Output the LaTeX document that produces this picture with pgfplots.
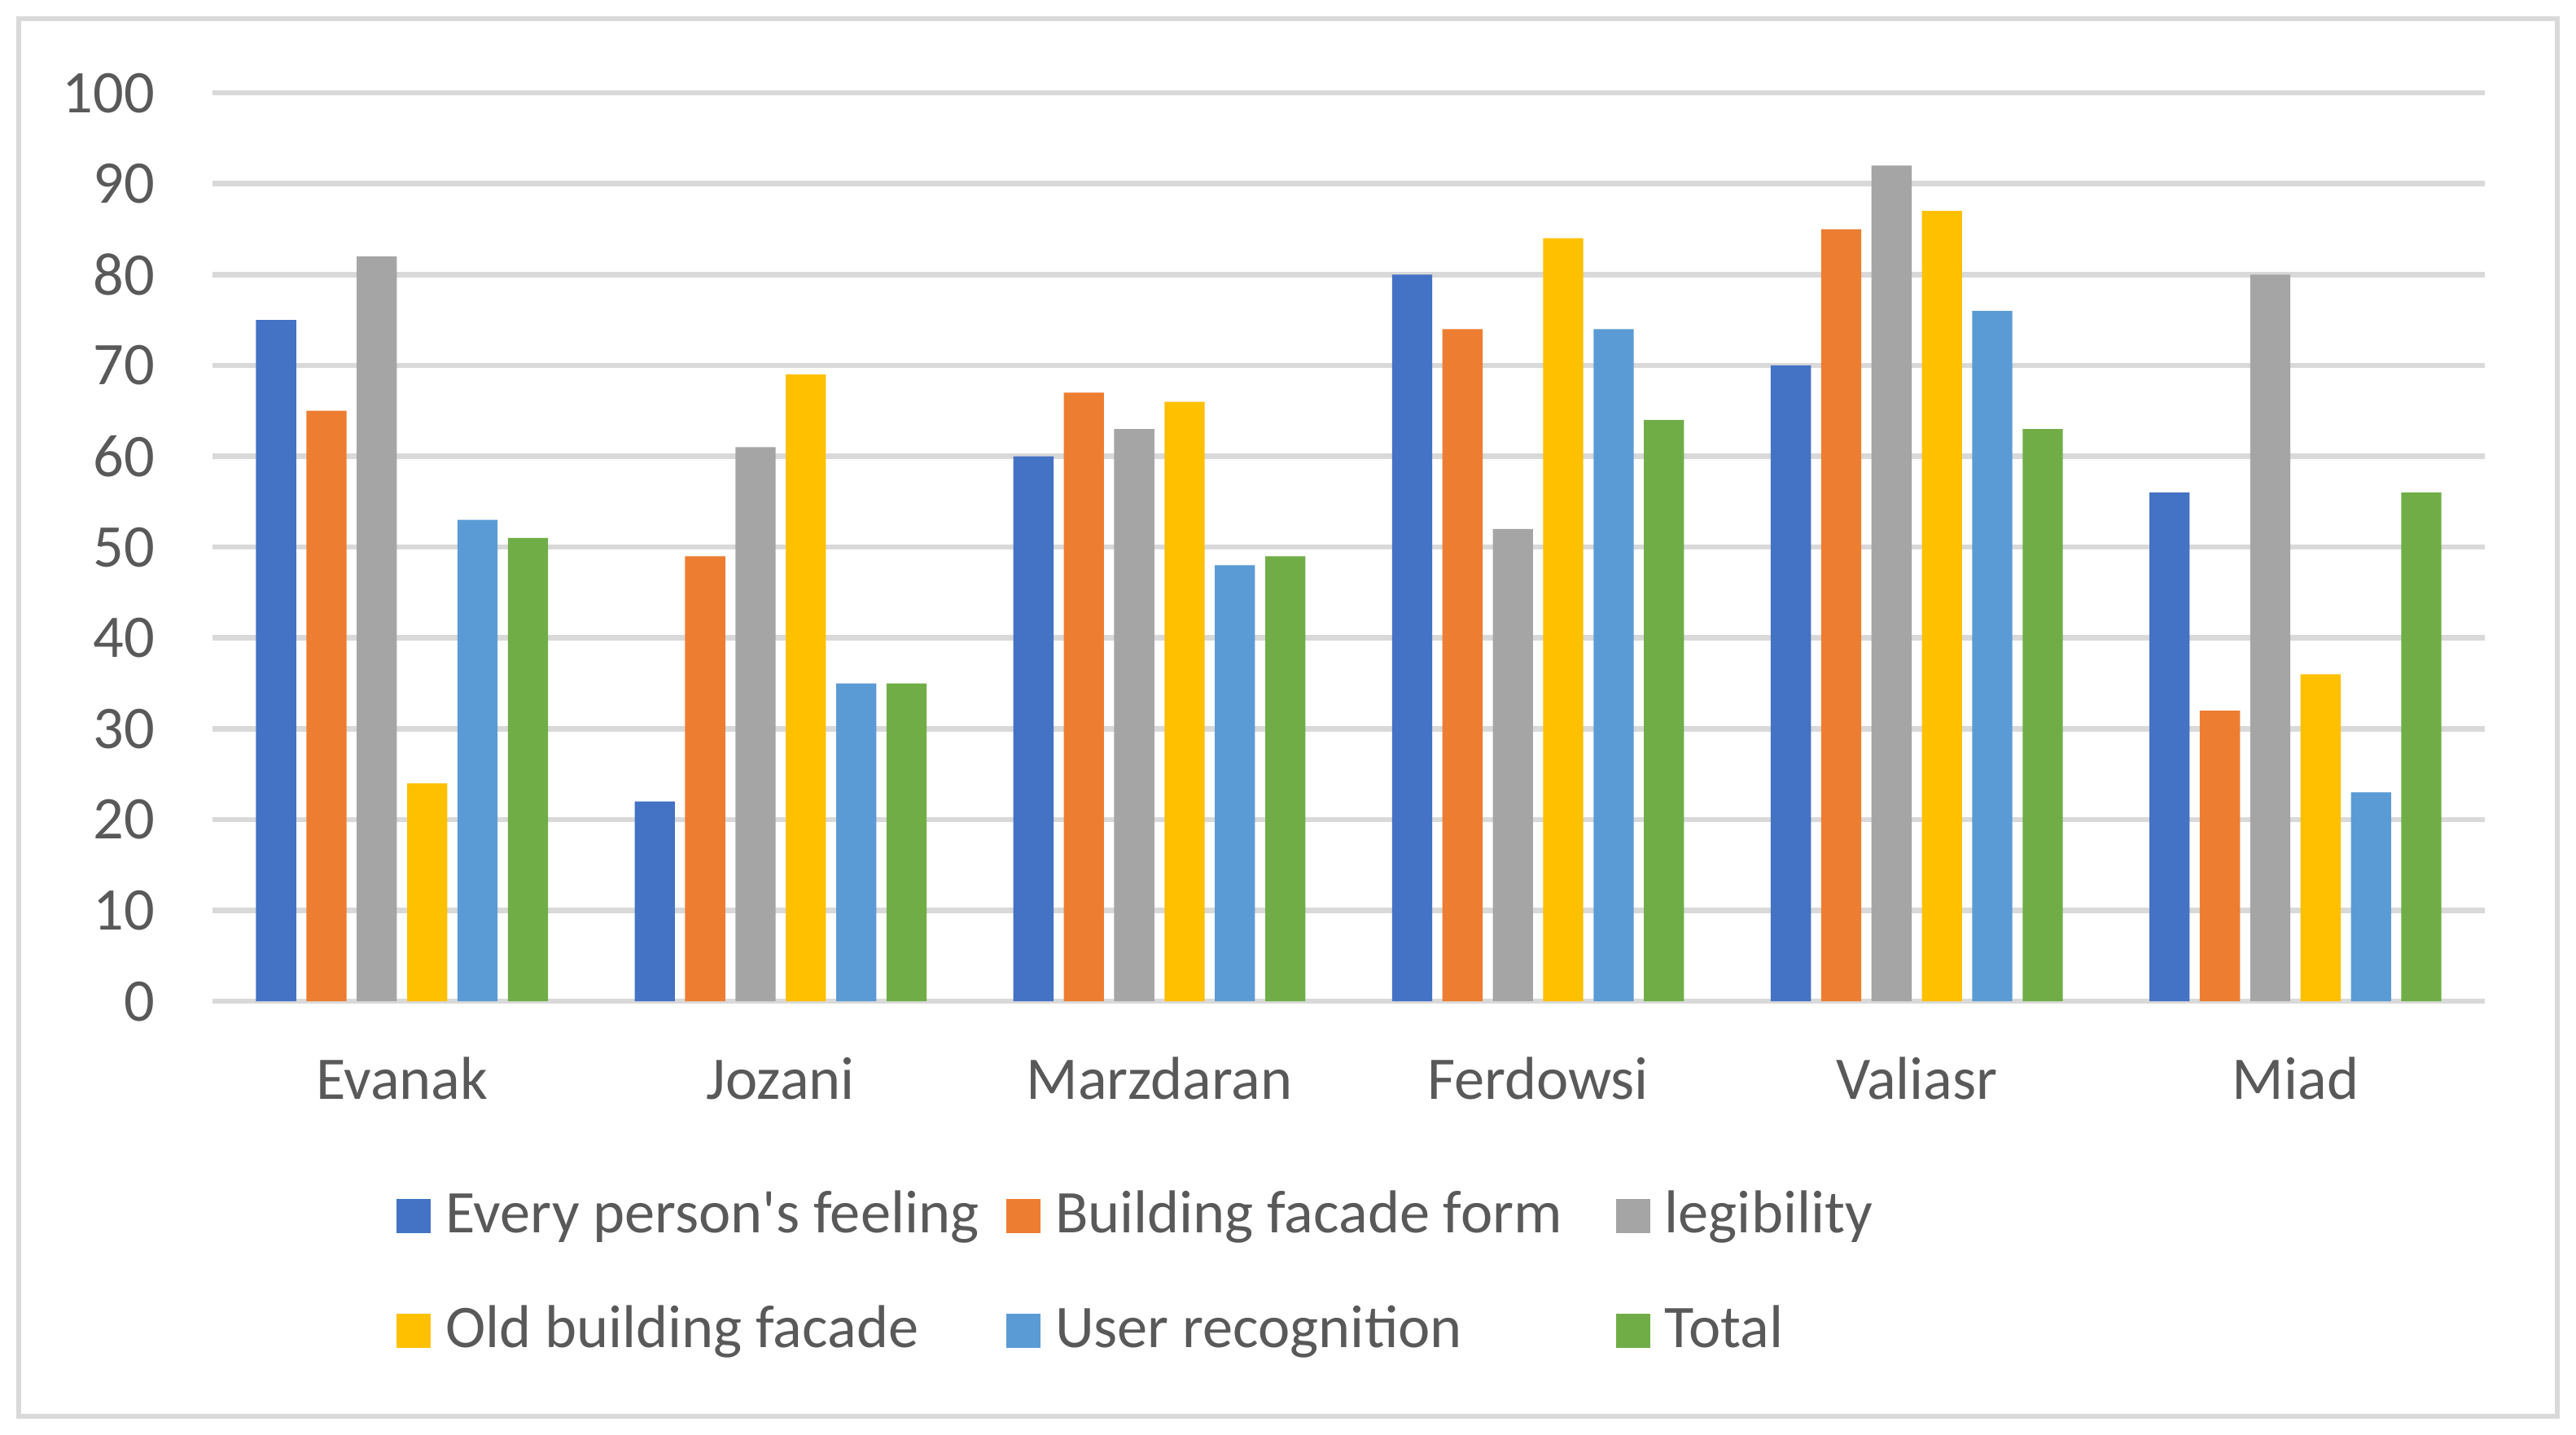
\documentclass[border=0pt]{standalone}
\usepackage{pgfplots}
\usepackage{pgfplotstable}
\pgfplotsset{compat=1.18}
\usepackage{fontspec}
\setmainfont{Carlito}

\definecolor{cA}{HTML}{4472C4}
\definecolor{cB}{HTML}{ED7D31}
\definecolor{cC}{HTML}{A5A5A5}
\definecolor{cD}{HTML}{FFC000}
\definecolor{cE}{HTML}{5B9BD5}
\definecolor{cF}{HTML}{70AD47}
\definecolor{gridc}{HTML}{D9D9D9}
\definecolor{txt}{HTML}{595959}

\newcommand\cf{\fontsize{9.3bp}{11bp}\selectfont}
\newcommand\lbox[1]{\makebox[88.35bp][l]{\hspace{2.25bp}#1}}

% x: 0 Evanak, 1 Jozani, 2 Marzdaran, 3 Ferdowsi, 4 Valiasr, 5 Miad
\pgfplotstableread{
x feel form legib old user total
0 75 65 82 24 53 51
1 22 49 61 69 35 35
2 60 67 63 66 48 49
3 80 74 52 84 74 64
4 70 85 92 87 76 63
5 56 32 80 36 23 56
}\scores

\begin{document}
\begin{tikzpicture}
\path (0,0) rectangle (395.5bp,220.375bp);
\draw[gridc, line width=0.7bp] (2.9bp,2.9bp) rectangle (392.6bp,217.475bp);
\begin{axis}[
    at={(32.65bp,66.6bp)}, anchor=south west,
    scale only axis,
    width=348.85bp, height=139.5bp,
    ybar, bar width=0.106,
    xmin=-0.5, xmax=5.5,
    ymin=0, ymax=100,
    xtick={0,...,5},
    xticklabels={Evanak,Jozani,Marzdaran,Ferdowsi,Valiasr,Miad},
    ytick={0,10,...,100},
    ymajorgrids,
    grid style={draw=gridc, line width=0.83bp},
    axis line style={draw=none},
    tick style={draw=none},
    major tick length=0pt,
    clip=false,
    /pgf/number format/assume math mode=true,
    tick label style={font=\cf, text=txt},
    yticklabel style={anchor=east, inner sep=0pt, xshift=-8.7bp},
    xticklabel style={anchor=base, inner sep=0pt, yshift=-15bp},
    legend columns=3,
    legend style={
        at={(0.081,-0.205)}, anchor=north west,
        draw=none, fill=none, inner sep=0pt, outer sep=0pt,
        font=\cf, text=txt,
        column sep=0pt, row sep=8.4bp,
        nodes={inner sep=0pt, anchor=base west, text height=7bp, text depth=2.2bp},
    },
    legend image code/.code={\fill[#1] (0bp,0bp) rectangle (5.25bp,5.25bp);},
]
\addplot[fill=cA, draw=none, bar shift=-0.3325] table[x=x, y=feel] {\scores};
\addlegendentry{\lbox{Every person\textquotesingle s feeling}}
\addplot[fill=cB, draw=none, bar shift=-0.1995] table[x=x, y=form] {\scores};
\addlegendentry{\lbox{Building facade form}}
\addplot[fill=cC, draw=none, bar shift=-0.0665] table[x=x, y=legib] {\scores};
\addlegendentry{\lbox{legibility}}
\addplot[fill=cD, draw=none, bar shift=0.0665] table[x=x, y=old] {\scores};
\addlegendentry{\lbox{Old building facade}}
\addplot[fill=cE, draw=none, bar shift=0.1995] table[x=x, y=user] {\scores};
\addlegendentry{\lbox{User recognition}}
\addplot[fill=cF, draw=none, bar shift=0.3325] table[x=x, y=total] {\scores};
\addlegendentry{\lbox{Total}}
\end{axis}
\end{tikzpicture}
\end{document}
